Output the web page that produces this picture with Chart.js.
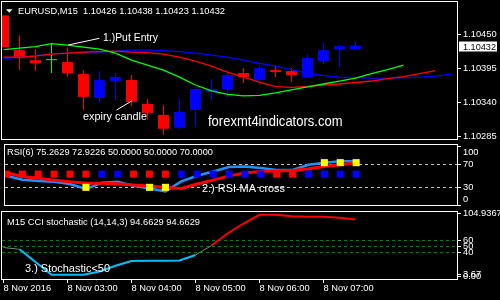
<!DOCTYPE html>
<html>
<head>
<meta charset="utf-8">
<script src="https://cdn.jsdelivr.net/npm/chart.js@4.4.1/dist/chart.umd.min.js"></script>
<style>
  html, body { margin:0; padding:0; background:#000; overflow:hidden; }
  #stage { position:relative; width:500px; height:300px; background:#000; }
  #stage canvas { position:absolute; left:0; }
</style>
</head>
<body>
<div id="stage">
  <canvas id="cMain" width="500" height="140" style="top:0;width:500px;height:140px"></canvas>
  <canvas id="cRsi" width="500" height="70" style="top:140px;width:500px;height:70px"></canvas>
  <canvas id="cCci" width="500" height="90" style="top:210px;width:500px;height:90px"></canvas>
</div>
<script>
// ================= DATA =================
const symbol = 'EURUSD';
const timeframe = 'M15';

// candles (M15 bars, index 0 = 02:00)
const openP  = [1.104804,1.104244,1.104083,1.104083,1.104051,1.103859,1.103475,1.103747,1.103763,1.103379,1.103202,1.102994,1.103282,1.103571,1.103619,1.103875,1.103763,1.103923,1.103907,1.103811,1.104067,1.104260,1.10426];
const highP  = [1.104804,1.104484,1.104260,1.104356,1.104292,1.103923,1.103907,1.103875,1.103843,1.103459,1.103363,1.103475,1.103667,1.103779,1.103923,1.103955,1.104003,1.104003,1.103955,1.104180,1.104372,1.104340,1.10438];
const lowP   = [1.104292,1.103923,1.103907,1.103875,1.103811,1.103282,1.103395,1.103443,1.103347,1.103122,1.102882,1.102962,1.103010,1.103443,1.103475,1.103715,1.103715,1.103811,1.103731,1.103811,1.104019,1.103971,1.10423];
const closeP = [1.104292,1.104116,1.104035,1.104083,1.103875,1.103491,1.103763,1.103811,1.103411,1.103234,1.102978,1.103250,1.103619,1.103619,1.103843,1.103811,1.103955,1.103891,1.103843,1.104116,1.104244,1.104308,1.10432];

// moving averages (shifted forward, so they run past the last candle)
const maBlue  = [1.104108,1.104132,1.104156,1.104180,1.104196,1.104204,1.104212,1.104228,1.104244,1.104244,1.104236,1.104220,1.104196,1.104164,1.104132,1.104083,1.104031,1.103987,1.103931,1.103875,1.103835,1.103811,1.103803,1.103795,1.103795,1.103803,1.103811,1.103827,1.103859];
const maRed   = [1.104132,1.104132,1.104148,1.104180,1.104196,1.104212,1.104220,1.104228,1.104212,1.104204,1.104180,1.104132,1.104067,1.103987,1.103891,1.103811,1.103731,1.103656,1.103646,1.103659,1.103683,1.103699,1.103723,1.103747,1.103787,1.103819,1.103867,1.103915];
const maGreen = [1.104252,1.104276,1.104300,1.104348,1.104324,1.104292,1.104260,1.104196,1.104083,1.104003,1.103923,1.103811,1.103683,1.103587,1.103531,1.103507,1.103515,1.103555,1.103603,1.103651,1.103699,1.103747,1.103795,1.103867,1.103931,1.104003];
const priceTicks = [1.10285, 1.10340, 1.10395, 1.10450];

// RSI panel
const rsiLine = [50.2,43.5,41,40,36,27.4,38.2,40,33,28.5,23.5,40.5,50.2,57.5,65.2,66,63.7,60,60,69,72.7,75,75.2629];
const rsiMA   = [55.5,48.8,45.75,42.5,40,37.5,37.5,36.5,34.5,32.5,30,28.5,36,42.7,50,55,57.7,58.5,59.2,62.2,66,69,72.9226];
const rsiSignal = ['dn','dn','dn','dn','dn','dn','up','up','dn','dn','dn','up','up','up','up','up','up','dn','dn','up','up','up','up'];
const rsiSignalLevel = 53;
const rsiAlertBars = [5, 9, 10, 20, 21, 22];
const rsiAlertVals = [30.3, 30.3, 30.3, 72.7, 72.7, 72.7];
const rsiHeader = [75.2629, 72.9226, 50.0000, 50.0000, 70.0000];
const rsiTicks = [100, 70, 30, 0];
const rsiLevels = [70, 30];

// CCI stochastic panel
const cciLine = [48,45,23.8,2.5,2.5,2.5,8,17.7,25.5,26,26,26.3,35.5,51.3,71.4,88,102.5,102.5,100,99.3,99.3,97.5,94.6629];
const cciZone = ['n','b','b','b','b','b','b','b','b','b','b','b','b','r','r','r','r','r','r','r','r','r','r'];
const cciHeader = [94.6629, 94.6629];
const cciTicks = [104.9367, 60, 50, 40, 3.67, 0];
const cciTickLabels = ['104.9367', '60', '50', '40', '3.67', '0.00'];
const cciLevels = [60, 50, 40];

// time axis
const timeTicks = [0, 4, 8, 12, 16, 20];
const timeLabels = ['8 Nov 2016', '8 Nov 03:00', '8 Nov 04:00', '8 Nov 05:00', '8 Nov 06:00', '8 Nov 07:00'];

// ================= STYLE / LAYOUT =================
const FONT = '"Liberation Sans", Arial, sans-serif';
const BULL = '#0000ff', BEAR = '#ff0000', DOJI = '#00ff00';
const X_MIN = -0.09375, X_MAX = X_MIN + 455 / 16;

Chart.defaults.font.family = FONT;
Chart.defaults.font.size = 9.3;
Chart.defaults.color = '#ffffff';

const last = closeP.length - 1;
const idx = closeP.map((_, i) => i);
const pts = arr => arr.map((v, i) => ({x: i, y: v}));
const candleColor = i => closeP[i] > openP[i] ? BULL : (closeP[i] < openP[i] ? BEAR : DOJI);

function txt(ctx, s, x, base, size, width, color) {
  ctx.save();
  ctx.font = size + 'px ' + FONT;
  ctx.fillStyle = color || '#ffffff';
  ctx.textBaseline = 'alphabetic';
  ctx.textAlign = 'left';
  const w = ctx.measureText(s).width;
  ctx.translate(x, base);
  if (width) ctx.scale(width / w, 1);
  ctx.fillText(s, 0, 0);
  ctx.restore();
}
function frame(ctx, a) {
  ctx.save();
  ctx.strokeStyle = '#ffffff';
  ctx.lineWidth = 1;
  ctx.strokeRect(a.left - 0.5, a.top - 0.5, a.right - a.left + 1, a.bottom - a.top + 1);
  ctx.restore();
}
function xAxis(extra) {
  return Object.assign({type: 'linear', min: X_MIN, max: X_MAX, offset: false, display: false,
    grid: {offset: false}}, extra || {});
}
function yAxis(o) {
  return {
    type: 'linear', position: 'right', min: o.min, max: o.max, beginAtZero: false,
    afterBuildTicks: s => { s.ticks = o.ticks.map(v => ({value: v})); },
    afterFit: s => { s.width = 43; s.paddingTop = 0; s.paddingBottom = 0; },
    ticks: {autoSkip: false, padding: 2, color: '#ffffff', font: {size: 9.3},
      callback: (v, i, t) => {
        const s = o.label(v, i);
        if (o.inset && i === 0) return ['', s];
        if (o.inset && i === t.length - 1) return [s, ''];
        return s;
      }},
    grid: {drawOnChartArea: !!o.levels, drawTicks: true, tickLength: 4, tickColor: '#ffffff', tickWidth: 1, lineWidth: 1,
      color: c => (o.levels && c.tick && o.levels.includes(c.tick.value)) ? o.levelColor : 'rgba(0,0,0,0)'},
    border: {display: false, dash: [3, 3]}
  };
}
const base = {
  responsive: false, animation: false, devicePixelRatio: 1, events: [],
  plugins: {legend: {display: false}, tooltip: {enabled: false}, title: {display: false}}
};

// ================= MAIN PRICE CHART =================
const callouts = [
  {x0: 4.05, y0: 1.104327, x1: 5.99, y1: 1.104435},
  {x0: 7.07, y0: 1.103280, x1: 8.01, y1: 1.103425}
];
new Chart(document.getElementById('cMain'), {
  type: 'bar',
  data: {datasets: [
    {type: 'line', data: pts(maGreen), borderColor: '#00ff00', borderWidth: 1.3, pointRadius: 0, tension: 0},
    {type: 'line', data: pts(maRed), borderColor: '#ff0000', borderWidth: 1.3, pointRadius: 0, tension: 0},
    {type: 'line', data: pts(maBlue), borderColor: '#0000ff', borderWidth: 1.3, pointRadius: 0, tension: 0},
    {type: 'bar', data: idx.map(i => ({x: i, y: [openP[i], closeP[i]]})), backgroundColor: idx.map(candleColor),
      barThickness: 11, grouped: false, minBarLength: 1, borderWidth: 0, inflateAmount: 0},
    {type: 'bar', data: idx.map(i => ({x: i, y: [lowP[i], highP[i]]})), backgroundColor: idx.map(candleColor),
      barThickness: 1, grouped: false, borderWidth: 0, inflateAmount: 0}
  ]},
  options: Object.assign({}, base, {
    layout: {padding: {left: 2, top: 2, right: 0, bottom: 1}},
    scales: {
      x: xAxis(),
      y: yAxis({min: 1.102813, max: 1.105020, ticks: priceTicks, label: v => v.toFixed(5)})
    }
  }),
  plugins: [{
    id: 'mainDeco',
    afterDraw(chart) {
      const {ctx, chartArea: a, scales: {x, y}} = chart;
      frame(ctx, a);
      // header
      ctx.save();
      ctx.fillStyle = '#ffffff';
      ctx.beginPath(); ctx.moveTo(6, 9.3); ctx.lineTo(12.5, 9.3); ctx.lineTo(9.25, 12.7); ctx.closePath(); ctx.fill();
      ctx.restore();
      const hdr = symbol + ',' + timeframe + '  ' + [openP[last], highP[last], lowP[last], closeP[last]].map(v => v.toFixed(5)).join(' ');
      txt(ctx, hdr, 18, 14, 9.3, 207);
      // callout lines
      ctx.save();
      ctx.strokeStyle = '#ffffff'; ctx.lineWidth = 1;
      callouts.forEach(c => {
        ctx.beginPath();
        ctx.moveTo(x.getPixelForValue(c.x0), y.getPixelForValue(c.y0));
        ctx.lineTo(x.getPixelForValue(c.x1), y.getPixelForValue(c.y1));
        ctx.stroke();
      });
      ctx.restore();
      txt(ctx, '1.)Put Entry', 103, 41, 10.7, 55);
      txt(ctx, 'expiry candle', 83, 120, 10.7, 64);
      txt(ctx, 'forexmt4indicators.com', 208, 126, 15, 134.5);
      // current price box
      const py = y.getPixelForValue(closeP[last]);
      ctx.save();
      ctx.fillStyle = '#ffffff';
      ctx.fillRect(a.right + 2, Math.round(py) - 3.5, 38, 10);
      ctx.restore();
      txt(ctx, closeP[last].toFixed(5), a.right + 6, Math.round(py) + 4.5, 9.3, 33, '#000000');
    }
  }]
});

// ================= RSI PANEL =================
new Chart(document.getElementById('cRsi'), {
  type: 'line',
  data: {datasets: [
    {data: rsiAlertBars.map((b, k) => ({x: b, y: rsiAlertVals[k]})), showLine: false, pointStyle: 'rect',
      pointRadius: 5, pointBorderWidth: 0, pointBackgroundColor: '#ffff00', clip: 0},
    {data: rsiSignal.map((s, i) => ({x: i, y: rsiSignalLevel})), showLine: false, pointStyle: 'rect',
      pointRadius: 5, pointBorderWidth: 0, pointBackgroundColor: rsiSignal.map(s => s === 'up' ? '#0000ff' : '#ff0000'), clip: 0},
    {data: pts(rsiMA), borderColor: '#ff0000', borderWidth: 3, pointRadius: 0, tension: 0},
    {data: pts(rsiLine), borderColor: '#1e90ff', borderWidth: 2.5, pointRadius: 0, tension: 0}
  ]},
  options: Object.assign({}, base, {
    layout: {padding: {left: 2, top: 2, right: 0, bottom: 1}},
    scales: {
      x: xAxis(),
      y: yAxis({min: 0, max: 103, ticks: rsiTicks, label: v => String(v), inset: true,
        levels: rsiLevels, levelColor: '#c0c0c0'})
    }
  }),
  plugins: [{
    id: 'rsiDeco',
    afterDraw(chart) {
      const {ctx, chartArea: a} = chart;
      frame(ctx, a);
      txt(ctx, 'RSI(6) ' + rsiHeader.map(v => v.toFixed(4)).join(' '), 7, 15, 9.3, 206);
      txt(ctx, '2.) RSI-MA cross', 202, 52, 10.7, 83);
    }
  }]
});

// ================= CCI STOCHASTIC PANEL =================
const zoneCol = {b: '#00bfff', r: '#ff0000', n: '#808080'};
new Chart(document.getElementById('cCci'), {
  type: 'line',
  data: {datasets: [
    {data: pts(cciLine), pointRadius: 0, tension: 0, borderColor: '#808080', borderWidth: 1,
      segment: {
        borderColor: c => cciZone[c.p0DataIndex] === cciZone[c.p1DataIndex] ? zoneCol[cciZone[c.p0DataIndex]] : zoneCol.n,
        borderWidth: c => (cciZone[c.p0DataIndex] === cciZone[c.p1DataIndex] && cciZone[c.p0DataIndex] !== 'n') ? 2 : 1
      }}
  ]},
  options: Object.assign({}, base, {
    layout: {padding: {left: 2, top: 2, right: 0, bottom: 0}},
    scales: {
      x: xAxis({display: true, position: 'bottom',
        afterBuildTicks: s => { s.ticks = timeTicks.map(v => ({value: v})); },
        afterFit: s => { s.height = 21; s.paddingLeft = 0; s.paddingRight = 0; },
        ticks: {autoSkip: false, maxRotation: 0, minRotation: 0, align: 'start', padding: 0, color: '#ffffff',
          font: {size: 9.3}, callback: (v, i) => timeLabels[i]},
        grid: {offset: false, drawOnChartArea: false, drawTicks: true, tickLength: 4, tickColor: '#ffffff'},
        border: {display: false}
      }),
      y: yAxis({min: -4.45, max: 107.2, ticks: cciTicks, label: (v, i) => cciTickLabels[i], inset: false,
        levels: cciLevels, levelColor: '#008000'})
    }
  }),
  plugins: [{
    id: 'cciDeco',
    afterDraw(chart) {
      const {ctx, chartArea: a} = chart;
      frame(ctx, a);
      txt(ctx, 'M15 CCI stochastic (14,14,3) ' + cciHeader.map(v => v.toFixed(4)).join(' '), 7, 15, 9.3, 193);
      txt(ctx, '3.) Stochastic<50', 25, 61.5, 10.7, 85);
    }
  }]
});
</script>
</body>
</html>
